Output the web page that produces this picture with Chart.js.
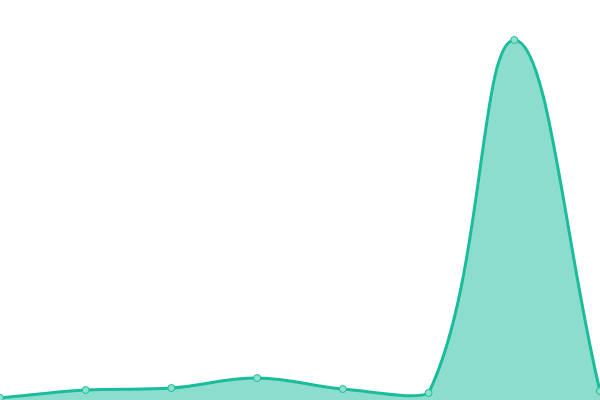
<!DOCTYPE html>
<html>
<head>
<meta charset="utf-8">
<script src="https://cdn.jsdelivr.net/npm/chart.js@4/dist/chart.umd.min.js"></script>
<style>
  html, body { margin: 0; padding: 0; background: #fff; }
  #wrap { width: 600px; height: 400px; }
</style>
</head>
<body>
<div id="wrap"><canvas id="areaChart"></canvas></div>
<script>
const labels = ['1', '2', '3', '4', '5', '6', '7', '8'];
const values = [0.5, 2.5, 3, 5.5, 2.75, 1.75, 90, 2.25];

const ctx = document.getElementById('areaChart').getContext('2d');
new Chart(ctx, {
    type: 'line',
    data: {
        labels: labels,
        datasets: [{
            data: values,
            borderColor: '#1abc9c',
            backgroundColor: 'rgba(26, 188, 156, 0.5)',
            pointBackgroundColor: '#8ce0cc',
            pointBorderColor: '#1abc9c',
            pointRadius: 3.5,
            pointBorderWidth: 1,
            borderWidth: 3,
            tension: 0.4,
            fill: 'origin',
            clip: false
        }]
    },
    options: {
        responsive: true,
        maintainAspectRatio: false,
        animation: false,
        layout: { padding: 0, autoPadding: false },
        plugins: {
            legend: { display: false },
            tooltip: { enabled: false }
        },
        scales: {
            x: { display: false, offset: false },
            y: { display: false, min: 0, max: 100 }
        }
    }
});
</script>
</body>
</html>
